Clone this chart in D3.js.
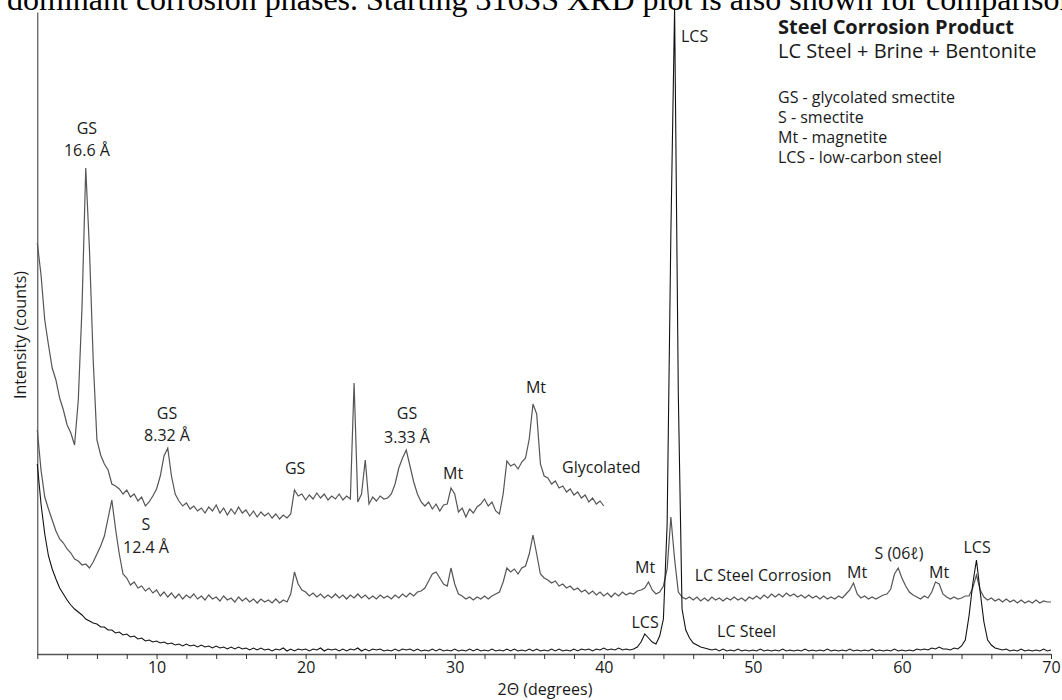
<!DOCTYPE html>
<html>
<head>
<meta charset="utf-8">
<script src="https://cdn.jsdelivr.net/npm/d3@7"></script>
<style>
  body { margin: 0; background: #fff; }
  svg text { font-family: "Open Sans", sans-serif; fill: #1a1a1a; }
</style>
</head>
<body>
<svg id="chart" width="1062" height="700"></svg>
<script>
// scans are stored as start + step, one intensity per step (arbitrary units)
const thetaStart = 2;
const thetaStep = 0.25;

// glycolated sample, 2 - 40 deg
const glycolated = [
  411, 379, 334, 309,  286, 274, 256, 244,  229, 221, 209, 254,
  347, 486, 404, 294,  214, 199, 190, 184,  170, 168, 165, 160,
  164, 157, 160, 153,  157, 148, 152, 158,  165, 178, 198, 206,
  178, 160, 153, 148,  151, 145, 148, 143,  146, 141, 147, 143,
  149, 141, 146, 139,  145, 140, 147, 141,  144, 138, 143, 137,
  142, 138, 141, 136,  140, 135, 139, 136,  140, 164, 158, 160,
  154, 159, 155, 161,  156, 160, 154, 158,  155, 160, 154, 158,
  155, 271, 152, 160,  194, 150, 157, 153,  158, 155, 156, 160,
  170, 186, 196, 204,  188, 172, 160, 152,  148, 152, 145, 150,
  143, 149, 150, 166,  160, 142, 146, 137,  145, 141, 147, 150,
  155, 148, 152, 143,  140, 160, 193, 188,  190, 185, 192, 196,
  215, 250, 240, 190,  178, 176, 170, 173,  166, 168, 162, 165,
  159, 162, 156, 159,  152, 156, 150, 153,  148
];

// LC steel corrosion product, 2 - 70 deg
const corrosion = [
  224, 184, 157, 145,  134, 123, 115, 111,  105, 101, 95, 93,
  89, 90, 86, 92,  100, 108, 118, 136,  154, 125, 100, 80,
  76, 69, 72, 66,  68, 63, 66, 61,  64, 58, 62, 57,
  61, 56, 60, 55,  59, 56, 60, 55,  58, 54, 59, 55,
  57, 53, 58, 54,  56, 52, 57, 53,  56, 52, 55, 51,
  55, 52, 54, 51,  55, 51, 54, 52,  60, 82, 70, 64,
  62, 58, 61, 57,  60, 56, 59, 56,  60, 56, 59, 55,
  59, 56, 60, 56,  59, 55, 58, 55,  59, 56, 58, 55,
  59, 56, 60, 57,  61, 58, 62, 63,  66, 73, 80, 82,
  76, 70, 68, 86,  70, 60, 58, 55,  57, 54, 57, 55,
  58, 55, 58, 60,  62, 72, 86, 82,  85, 80, 86, 88,
  100, 119, 100, 80,  76, 74, 71, 73,  68, 70, 66, 68,
  64, 66, 62, 64,  60, 63, 59, 62,  58, 61, 57, 61,
  58, 62, 59, 61,  60, 63, 64, 66,  72, 64, 60, 62,
  68, 85, 137, 95,  62, 57, 55, 57,  54, 57, 53, 56,
  53, 57, 54, 56,  53, 56, 54, 57,  54, 56, 53, 57,
  55, 58, 55, 59,  56, 60, 57, 60,  57, 61, 58, 60,
  57, 59, 56, 59,  56, 58, 55, 58,  55, 57, 55, 58,
  56, 60, 64, 71,  60, 56, 58, 55,  57, 55, 57, 59,
  60, 65, 80, 86,  76, 68, 62, 59,  57, 55, 58, 56,
  62, 72, 70, 60,  57, 55, 57, 55,  56, 58, 58, 66,
  79, 64, 57, 54,  56, 53, 55, 52,  55, 52, 54, 51,
  54, 51, 53, 51,  54, 51, 53, 52,  52
];

// plain LC steel, 2 - 70 deg
const lcSteel = [
  190, 150, 120, 98,  85, 75, 66, 60,  54, 49, 45, 42,
  39, 35, 33, 31,  30, 27, 27, 24,  24, 21, 22, 19,
  20, 17, 18, 15,  16, 13, 14, 12,  13, 11, 12, 10,
  11, 9, 10, 8,  10, 8, 9, 7,  9, 7, 8, 6,
  8, 6, 7, 5,  7, 5, 7, 5,  6, 4, 6, 4,
  6, 4, 5, 3,  5, 4, 6, 3,  5, 3, 5, 4,
  5, 3, 5, 4,  6, 3, 5, 4,  5, 3, 5, 3,
  5, 4, 6, 3,  5, 3, 5, 4,  5, 3, 4, 3,
  5, 3, 5, 4,  5, 3, 5, 3,  4, 3, 5, 3,
  5, 3, 4, 3,  5, 3, 4, 3,  5, 3, 5, 3,
  4, 3, 5, 3,  4, 3, 5, 3,  5, 3, 4, 3,
  5, 3, 5, 3,  4, 3, 5, 3,  5, 3, 4, 3,
  5, 3, 5, 4,  5, 3, 5, 4,  6, 4, 5, 4,
  6, 4, 5, 4,  5, 7, 12, 20,  16, 12, 10, 18,
  35, 130, 420, 646,  260, 45, 24, 16,  11, 9, 7, 6,
  5, 4, 5, 3,  5, 3, 4, 3,  5, 3, 4, 3,
  4, 3, 5, 3,  4, 3, 4, 3,  5, 3, 4, 3,
  4, 3, 5, 3,  4, 3, 4, 3,  5, 3, 4, 3,
  4, 3, 5, 3,  4, 3, 4, 3,  5, 3, 4, 3,
  4, 3, 5, 3,  4, 3, 4, 3,  5, 4, 5, 4,
  6, 5, 7, 5,  5, 4, 6, 5,  8, 14, 38, 70,
  94, 62, 32, 14,  9, 6, 5, 4,  5, 3, 4, 3,
  5, 3, 4, 3,  4, 3, 5, 3,  4
];

const minorTicks = [2, 4, 6, 8, 10, 12, 14, 16, 18, 20, 22, 24, 26, 28, 30, 32, 34,
  36, 38, 40, 42, 44, 46, 48, 50, 52, 54, 56, 58, 60, 62, 64, 66, 68, 70];
const labelledTicks = [10, 20, 30, 40, 50, 60, 70];

// peak labels, placed in data units (2theta, intensity)
const peakLabels = [
  { text: "GS", theta: 5.33, level: 526 },
  { text: "16.6 Å", theta: 5.33, level: 504 },
  { text: "GS", theta: 10.7, level: 241 },
  { text: "8.32 Å", theta: 10.7, level: 219 },
  { text: "S", theta: 9.29, level: 130 },
  { text: "12.4 Å", theta: 9.29, level: 107 },
  { text: "GS", theta: 19.3, level: 186 },
  { text: "GS", theta: 26.8, level: 241 },
  { text: "3.33 Å", theta: 26.8, level: 217 },
  { text: "Mt", theta: 29.89, level: 181 },
  { text: "Mt", theta: 35.45, level: 267 },
  { text: "Glycolated", theta: 37.2, level: 187, anchor: "start" },
  { text: "Mt", theta: 42.77, level: 87 },
  { text: "LCS", theta: 42.77, level: 32 },
  { text: "LC Steel Corrosion", theta: 46.1, level: 79, anchor: "start" },
  { text: "LC Steel", theta: 47.6, level: 23, anchor: "start" },
  { text: "LCS", theta: 45.18, level: 618, anchor: "start" },
  { text: "Mt", theta: 56.99, level: 82 },
  { text: "S (06ℓ)", theta: 59.8, level: 101 },
  { text: "Mt", theta: 62.49, level: 82 },
  { text: "LCS", theta: 65.04, level: 107 }
];

const legendTitle = "Steel Corrosion Product";
const legendSubtitle = "LC Steel + Brine + Bentonite";
const legendItems = ["GS - glycolated smectite", "S - smectite", "Mt - magnetite", "LCS - low-carbon steel"];

const svg = d3.select("#chart");

const x = d3.scaleLinear().domain([2, 70]).range([37.3, 1051]);
const y = d3.scaleLinear().domain([0, 642]).range([654, 12]);

// caption line of the page the figure was cut from
svg.append("text")
  .attr("x", 7)
  .attr("y", 10)
  .style("font-family", "'Liberation Serif', 'Times New Roman', serif")
  .style("font-size", "32px")
  .style("fill", "#000")
  .text("dominant corrosion phases. Starting 316SS XRD plot is also shown for comparison");

// axes
const xAxis = svg.append("g")
  .attr("transform", `translate(0,${y(0)})`)
  .call(d3.axisBottom(x)
    .tickValues(minorTicks)
    .tickSize(5)
    .tickSizeOuter(0)
    .tickPadding(3)
    .tickFormat(d => labelledTicks.includes(d) ? d : ""));
xAxis.select(".domain").attr("stroke", "#555").attr("stroke-width", 1.6);
xAxis.selectAll(".tick line").attr("stroke", "#333");
xAxis.selectAll(".tick text").style("font-size", "16px").style("font-family", "'Open Sans', sans-serif").attr("fill", "#1a1a1a");

const yAxis = svg.append("g")
  .attr("transform", `translate(${x(2)},0)`)
  .call(d3.axisLeft(y).tickValues([]).tickSizeOuter(0));
yAxis.select(".domain").attr("stroke", "#333").attr("stroke-width", 1);

svg.append("text")
  .attr("x", 545)
  .attr("y", 695)
  .attr("text-anchor", "middle")
  .style("font-size", "16px")
  .text("2Θ (degrees)");

svg.append("text")
  .attr("transform", "translate(20,335) rotate(-90)")
  .attr("text-anchor", "middle")
  .attr("dy", "0.35em")
  .style("font-size", "16px")
  .text("Intensity (counts)");

// traces
const line = d3.line()
  .x((d, i) => x(thetaStart + i * thetaStep))
  .y(d => y(d));

svg.append("path")
  .datum(glycolated)
  .attr("fill", "none")
  .attr("stroke", "#555")
  .attr("stroke-width", 1.2)
  .attr("d", line);

svg.append("path")
  .datum(corrosion)
  .attr("fill", "none")
  .attr("stroke", "#555")
  .attr("stroke-width", 1.2)
  .attr("d", line);

svg.append("path")
  .datum(lcSteel)
  .attr("fill", "none")
  .attr("stroke", "#111")
  .attr("stroke-width", 1.1)
  .attr("d", line);

// peak labels
svg.append("g")
  .selectAll("text")
  .data(peakLabels)
  .join("text")
  .attr("x", d => x(d.theta))
  .attr("y", d => y(d.level))
  .attr("dy", "0.35em")
  .attr("text-anchor", d => d.anchor || "middle")
  .style("font-size", "16px")
  .text(d => d.text);

// legend block
const legend = svg.append("g").attr("transform", "translate(778,0)");

legend.append("text")
  .attr("y", 27)
  .attr("dy", "0.35em")
  .style("font-size", "20px")
  .style("font-weight", "bold")
  .text(legendTitle);

legend.append("text")
  .attr("y", 51)
  .attr("dy", "0.35em")
  .style("font-size", "20px")
  .text(legendSubtitle);

legend.selectAll(".item")
  .data(legendItems)
  .join("text")
  .attr("class", "item")
  .attr("y", (d, i) => 97 + i * 20)
  .attr("dy", "0.35em")
  .style("font-size", "16px")
  .text(d => d);
</script>
</body>
</html>
